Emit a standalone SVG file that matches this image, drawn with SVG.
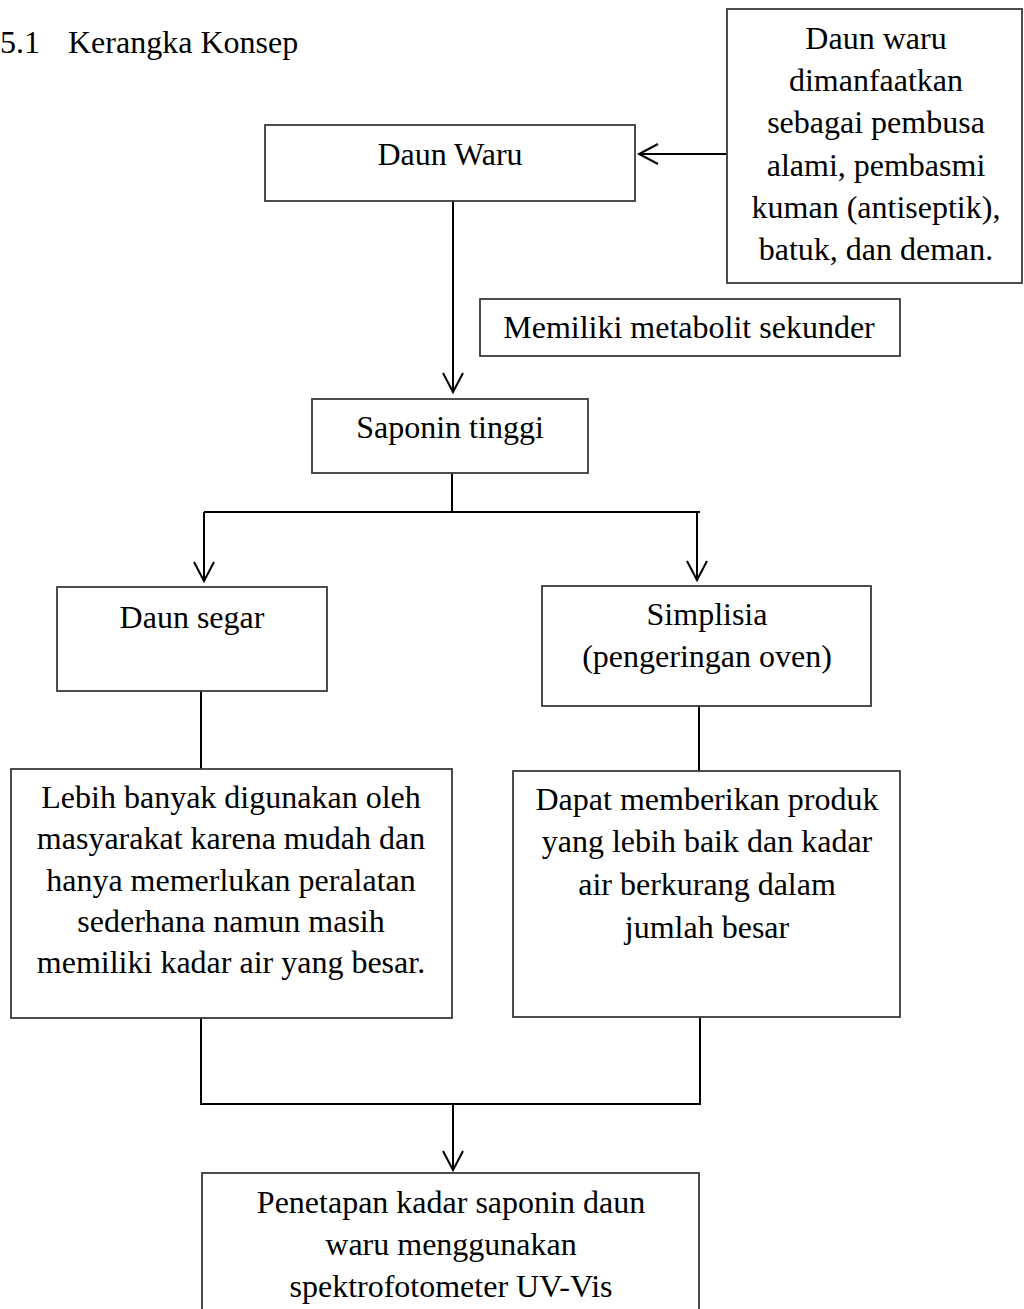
<svg xmlns="http://www.w3.org/2000/svg" width="1024" height="1309" viewBox="0 0 1024 1309">
<style>
.box{fill:#fff;stroke:#3a3a3a;stroke-width:1.8}
.t{font-family:"Liberation Serif","Times New Roman",serif;font-size:32px;fill:#000;text-anchor:middle}
.title{font-family:"Liberation Serif","Times New Roman",serif;font-size:32px;fill:#000}
.c{fill:none;stroke:#000;stroke-width:2}
</style>
<defs>
<marker id="arr" markerUnits="userSpaceOnUse" markerWidth="30" markerHeight="30" viewBox="0 0 30 30" refX="21" refY="11" orient="auto" overflow="visible">
<path d="M2,1 L21,11 L2,21" fill="none" stroke="#000" stroke-width="2"/>
</marker>
</defs>
<rect width="1024" height="1309" fill="#fff"/>
<g id="title">
<text class="title" x="0" y="53">5.1</text>
<text class="title" x="68" y="53">Kerangka Konsep</text>
</g>
<g id="connectors">
<line class="c" x1="727" y1="154" x2="639" y2="154" marker-end="url(#arr)"/>
<line class="c" x1="453" y1="201" x2="453" y2="392" marker-end="url(#arr)"/>
<path class="c" d="M452,473 V512 M204,512 H700"/>
<line class="c" x1="204" y1="512" x2="204" y2="581" marker-end="url(#arr)"/>
<line class="c" x1="697" y1="512" x2="697" y2="580" marker-end="url(#arr)"/>
<line class="c" x1="201" y1="691" x2="201" y2="769"/>
<line class="c" x1="699" y1="706" x2="699" y2="771"/>
<path class="c" d="M201,1018 V1104 H700 V1017"/>
<line class="c" x1="453" y1="1104" x2="453" y2="1170" marker-end="url(#arr)"/>
</g>
<g id="daun-waru">
<rect class="box" x="265" y="125" width="370" height="76"/>
<text class="t" x="450" y="165">Daun Waru</text>
</g>
<g id="manfaat">
<rect class="box" x="727" y="9" width="295" height="274"/>
<text class="t" x="876" y="49">Daun waru</text>
<text class="t" x="876" y="91">dimanfaatkan</text>
<text class="t" x="876" y="133">sebagai pembusa</text>
<text class="t" x="876" y="176">alami, pembasmi</text>
<text class="t" x="876" y="218">kuman (antiseptik),</text>
<text class="t" x="876" y="260">batuk, dan deman.</text>
</g>
<g id="metabolit">
<rect class="box" x="480" y="299" width="420" height="57"/>
<text class="t" x="689" y="338">Memiliki metabolit sekunder</text>
</g>
<g id="saponin">
<rect class="box" x="312" y="399" width="276" height="74"/>
<text class="t" x="450" y="438">Saponin tinggi</text>
</g>
<g id="daun-segar">
<rect class="box" x="57" y="587" width="270" height="104"/>
<text class="t" x="192" y="628">Daun segar</text>
</g>
<g id="simplisia">
<rect class="box" x="542" y="586" width="329" height="120"/>
<text class="t" x="707" y="625">Simplisia</text>
<text class="t" x="707" y="667">(pengeringan oven)</text>
</g>
<g id="lebih">
<rect class="box" x="11" y="769" width="441" height="249"/>
<text class="t" x="231" y="808">Lebih banyak digunakan oleh</text>
<text class="t" x="231" y="849">masyarakat karena mudah dan</text>
<text class="t" x="231" y="891">hanya memerlukan peralatan</text>
<text class="t" x="231" y="932">sederhana namun masih</text>
<text class="t" x="231" y="973">memiliki kadar air yang besar.</text>
</g>
<g id="dapat">
<rect class="box" x="513" y="771" width="387" height="246"/>
<text class="t" x="707" y="810">Dapat memberikan produk</text>
<text class="t" x="707" y="852">yang lebih baik dan kadar</text>
<text class="t" x="707" y="895">air berkurang dalam</text>
<text class="t" x="707" y="938">jumlah besar</text>
</g>
<g id="penetapan">
<rect class="box" x="202" y="1173" width="497" height="160"/>
<text class="t" x="451" y="1213">Penetapan kadar saponin daun</text>
<text class="t" x="451" y="1255">waru menggunakan</text>
<text class="t" x="451" y="1297">spektrofotometer UV-Vis</text>
</g>
</svg>
